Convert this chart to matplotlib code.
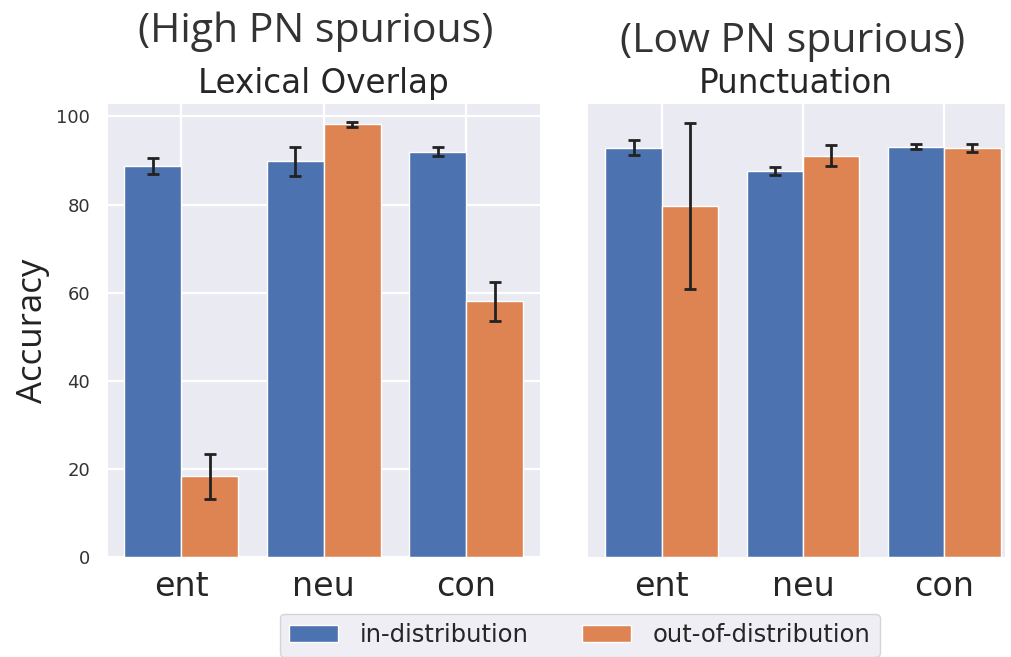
import numpy as np
import matplotlib
matplotlib.use("Agg")
import matplotlib.pyplot as plt
import seaborn as sns

LABELS = ["ent", "neu", "con"]
SERIES = ["in-distribution", "out-of-distribution"]

# Lexical overlap (high PN spurious)
LEX_IN = [88.7, 89.8, 92.0]
LEX_IN_ERR = [1.8, 3.3, 1.0]
LEX_OUT = [18.3, 98.2, 58.0]
LEX_OUT_ERR = [5.0, 0.5, 4.4]

# Punctuation (low PN spurious)
PUN_IN = [92.9, 87.6, 93.1]
PUN_IN_ERR = [1.7, 0.9, 0.6]
PUN_OUT = [79.6, 91.1, 92.9]
PUN_OUT_ERR = [18.8, 2.3, 0.9]

BLUE = "#4C72B0"
ORANGE = "#DD8452"
TITLE_FONT = ["Open Sans", "DejaVu Sans"]


def draw_panel(ax, vals_in, err_in, vals_out, err_out, title):
    x = np.arange(len(LABELS))
    w = 0.4
    kw = dict(edgecolor="white", linewidth=1.0,
              error_kw=dict(ecolor="#222222", elinewidth=2, capsize=4.5, capthick=2))
    b1 = ax.bar(x - w / 2, vals_in, w, yerr=err_in, color=BLUE, label=SERIES[0], **kw)
    b2 = ax.bar(x + w / 2, vals_out, w, yerr=err_out, color=ORANGE, label=SERIES[1], **kw)
    ax.set_xticks(x)
    ax.set_xticklabels(LABELS, fontsize=24)
    ax.tick_params(axis="x", length=0, pad=9)
    ax.set_ylim(0, 103)
    ax.set_title(title, fontsize=23.5, pad=7)
    ax.grid(True, linewidth=1.6, color="white")
    return b1, b2


def main():
    sns.set_style("darkgrid")
    fig = plt.figure(figsize=(10.12, 6.57), dpi=100)
    ax1 = fig.add_axes([0.1057, 0.152, 0.428, 0.691])
    ax2 = fig.add_axes([0.580, 0.152, 0.413, 0.691])

    b1, b2 = draw_panel(ax1, LEX_IN, LEX_IN_ERR, LEX_OUT, LEX_OUT_ERR, "Lexical Overlap")
    draw_panel(ax2, PUN_IN, PUN_IN_ERR, PUN_OUT, PUN_OUT_ERR, "Punctuation")

    ax1.set_xlim(-0.52, 2.52)
    ax2.set_xlim(-0.53, 2.43)
    ax1.set_yticks([0, 20, 40, 60, 80, 100])
    ax1.tick_params(axis="y", length=0, pad=12, labelsize=13, labelcolor="#333333")
    ax2.set_yticks([])

    fig.text(0.312, 0.951, "(High PN spurious)", ha="center", va="center",
             fontsize=29.5, family=TITLE_FONT, color="#333333")
    fig.text(0.783, 0.936, "(Low PN spurious)", ha="center", va="center",
             fontsize=29.5, family=TITLE_FONT, color="#333333")
    fig.text(0.033, 0.496, "Accuracy", ha="center", va="center", rotation=90,
             fontsize=25, family=TITLE_FONT, color="#222222")

    fig.legend([b1, b2], SERIES, loc="upper center", bbox_to_anchor=(0.573, 0.066),
               ncol=2, fontsize=17.5, frameon=True, handlelength=2.0,
               handletextpad=0.9, columnspacing=2.2, borderaxespad=0)

    fig.savefig("out.png", dpi=100)


if __name__ == "__main__":
    main()
